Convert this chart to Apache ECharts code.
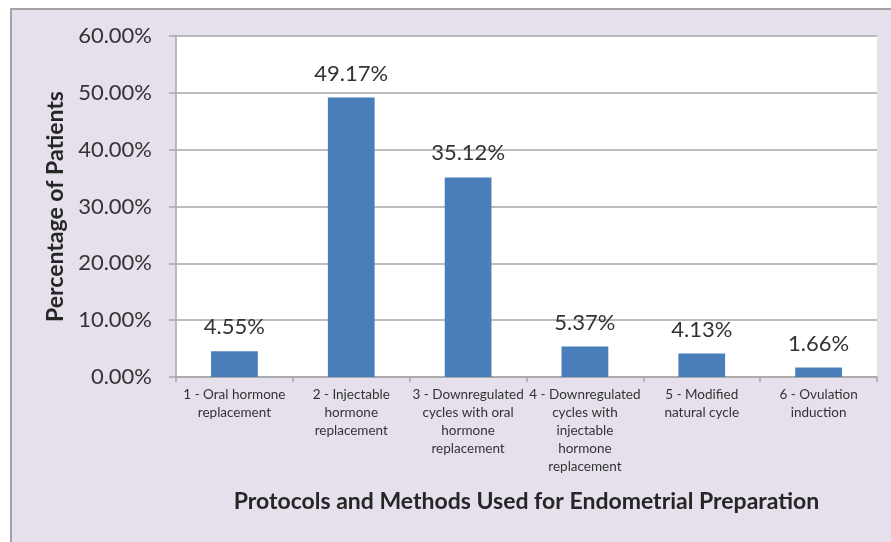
<!DOCTYPE html>
<html>
<head>
<meta charset="utf-8">
<script src="https://cdn.jsdelivr.net/npm/echarts@6/dist/echarts.min.js"></script>
<style>
  html, body { margin: 0; padding: 0; background: #ffffff; }
  #chart { width: 891px; height: 542px; }
</style>
</head>
<body>
<div id="chart"></div>
<script>
// Endometrial preparation protocols: share of patients per method
const categories = [
  '1 - Oral hormone\nreplacement',
  '2 - Injectable\nhormone\nreplacement',
  '3 - Downregulated\ncycles with oral\nhormone\nreplacement',
  '4 - Downregulated\ncycles with\ninjectable\nhormone\nreplacement',
  '5 - Modified\nnatural cycle',
  '6 - Ovulation\ninduction'
];
const percentages = [4.55, 49.17, 35.12, 5.37, 4.13, 1.66];
const yTicks = { min: 0, max: 60, interval: 10 };
const yAxisTitle = 'Percentage of Patients';
const xAxisTitle = 'Protocols and Methods Used for Endometrial Preparation';

const FONT = 'Lato, "Open Sans", sans-serif';
const GRID_GREY = '#a6a6a6';
const TEXT = '#333333';

const chart = echarts.init(document.getElementById('chart'), null, { renderer: 'canvas' });
chart.setOption({
  backgroundColor: '#ffffff',
  animation: false,
  textStyle: { fontFamily: FONT },
  graphic: [{
    type: 'rect',
    left: 10, top: 8,
    shape: { width: 900, height: 560 },
    style: { fill: '#e5e0ec', stroke: '#a3a3a3', lineWidth: 2 },
    z: -10
  }],
  grid: {
    left: 176, right: 14, top: 36, bottom: 165,
    show: true, backgroundColor: '#ffffff', borderWidth: 0
  },
  xAxis: {
    type: 'category',
    data: categories,
    name: xAxisTitle,
    nameLocation: 'middle',
    nameGap: 113,
    nameTextStyle: { fontFamily: FONT, fontSize: 23, fontWeight: 'bold', color: '#262626' },
    axisLine: { lineStyle: { color: GRID_GREY, width: 1.5 } },
    axisTick: { show: true, length: 5, lineStyle: { color: GRID_GREY, width: 1.5 } },
    axisLabel: {
      interval: 0, margin: 9, fontFamily: FONT, fontSize: 13.5, lineHeight: 18,
      color: TEXT, align: 'center', verticalAlign: 'top'
    }
  },
  yAxis: {
    type: 'value',
    min: yTicks.min, max: yTicks.max, interval: yTicks.interval,
    name: yAxisTitle,
    nameLocation: 'middle',
    nameRotate: 90,
    nameGap: 107,
    nameTextStyle: { fontFamily: FONT, fontSize: 23, fontWeight: 'bold', color: '#262626' },
    axisLine: { show: true, lineStyle: { color: GRID_GREY, width: 1.5 } },
    axisTick: { show: true, length: 7, lineStyle: { color: GRID_GREY, width: 1.5 } },
    splitLine: { lineStyle: { color: GRID_GREY, width: 1.5 } },
    axisLabel: {
      margin: 24, fontFamily: FONT, fontSize: 22, color: TEXT,
      formatter: v => v.toFixed(2) + '%'
    }
  },
  series: [{
    type: 'bar',
    data: percentages,
    barWidth: '40%',
    itemStyle: { color: '#4a7ebb' },
    label: {
      show: true, position: 'top', distance: 13,
      fontFamily: FONT, fontSize: 22, color: TEXT,
      formatter: p => p.value.toFixed(2) + '%'
    }
  }]
});
</script>
</body>
</html>
